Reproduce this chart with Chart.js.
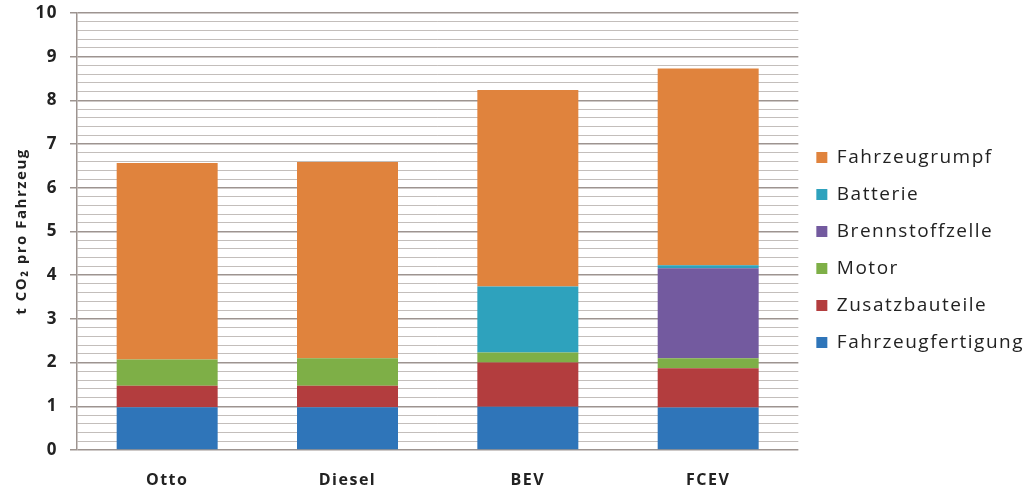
<!DOCTYPE html>
<html lang="de">
<head>
    <meta charset="UTF-8">
    <title>CO2 pro Fahrzeug</title>
    <style>
        html, body { margin: 0; padding: 0; background: #fff; }
        #chart-container { width: 1034px; height: 491px; }
    </style>
    <script src="https://cdn.jsdelivr.net/npm/chart.js"></script>
</head>
<body>
    <div id="chart-container">
        <canvas id="co2Chart"></canvas>
    </div>
    <script>
        // Kategorien und Werte (t CO2 pro Fahrzeug)
        const categories = ["Otto", "Diesel", "BEV", "FCEV"];
        const fahrzeugfertigung = [0.98, 0.98, 0.99, 0.97];
        const zusatzbauteile = [0.49, 0.49, 1.01, 0.90];
        const motor = [0.60, 0.63, 0.23, 0.23];
        const brennstoffzelle = [0, 0, 0, 2.06];
        const batterie = [0, 0, 1.51, 0.07];
        const fahrzeugrumpf = [4.50, 4.49, 4.50, 4.50];

        const isMajor = v => Math.abs(v - Math.round(v)) < 1e-6;

        // etwas Sperrung wie im Original, Legende minimal nach oben
        const spacing = {
            id: 'spacing',
            beforeLayout: c => { c.ctx.letterSpacing = '1.5px'; },
            afterLayout: c => { c.legend.top -= 2; c.legend.bottom -= 2; },
            beforeDraw: c => { c.ctx.letterSpacing = '1.5px'; }
        };

        const ctx = document.getElementById('co2Chart').getContext('2d');
        const mk = (label, data, color) => ({
            label: label, data: data, backgroundColor: color,
            barPercentage: 0.56, categoryPercentage: 1.0
        });

        new Chart(ctx, {
            type: 'bar',
            data: {
                labels: categories,
                datasets: [
                    mk('Fahrzeugfertigung', fahrzeugfertigung, '#2f75b9'),
                    mk('Zusatzbauteile', zusatzbauteile, '#b33d3e'),
                    mk('Motor', motor, '#7eaf47'),
                    mk('Brennstoffzelle', brennstoffzelle, '#735a9f'),
                    mk('Batterie', batterie, '#2ea2bd'),
                    mk('Fahrzeugrumpf', fahrzeugrumpf, '#e0833d')
                ]
            },
            plugins: [spacing],
            options: {
                responsive: true,
                maintainAspectRatio: false,
                animation: false,
                layout: { padding: { top: 13, bottom: 0, left: 0, right: 0 } },
                plugins: {
                    tooltip: { enabled: false },
                    legend: {
                        position: 'right',
                        reverse: true,
                        labels: {
                            boxWidth: 11,
                            boxHeight: 11,
                            padding: 18,
                            color: '#222',
                            font: { family: 'Open Sans', size: 19 }
                        }
                    }
                },
                scales: {
                    x: {
                        stacked: true,
                        grid: { display: false },
                        border: { display: false },
                        ticks: {
                            color: '#222',
                            padding: 13,
                            font: { family: 'Open Sans', size: 16, weight: 'bold' }
                        },
                        afterFit: s => { s.height = 41; }
                    },
                    y: {
                        stacked: true,
                        min: 0,
                        max: 10,
                        title: {
                            display: true,
                            text: 't CO₂ pro Fahrzeug',
                            color: '#222',
                            padding: { top: 13, bottom: 0 },
                            font: { family: 'Open Sans', size: 15, weight: 'bold' }
                        },
                        border: { color: '#9d9490', width: 1.5 },
                        grid: {
                            color: c => isMajor(c.tick.value) ? '#9d9490' : '#c3bebb',
                            lineWidth: c => isMajor(c.tick.value) ? 1.5 : 1,
                            tickColor: c => isMajor(c.tick.value) ? '#9d9490' : 'rgba(0,0,0,0)',
                            tickLength: 7
                        },
                        ticks: {
                            stepSize: 0.2,
                            autoSkip: false,
                            color: '#222',
                            padding: 12,
                            font: { family: 'Open Sans', size: 17, weight: 'bold' },
                            callback: v => isMajor(v) ? Math.round(v) : ''
                        },
                        afterFit: s => { s.width = 77; s.paddingTop = 0; s.paddingBottom = 0; }
                    }
                }
            }
        });
    </script>
</body>
</html>
